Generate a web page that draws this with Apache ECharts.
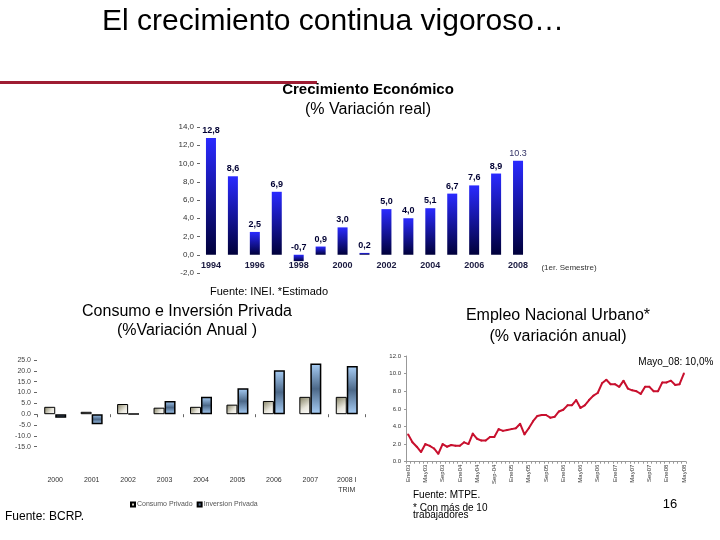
<!DOCTYPE html>
<html>
<head>
<meta charset="utf-8">
<script src="https://cdn.jsdelivr.net/npm/echarts@6/dist/echarts.min.js"></script>
<style>
html,body{margin:0;padding:0;background:#fff;}
#c{width:720px;height:540px;}
</style>
</head>
<body>
<div id="c"></div>
<script>
// ---- Crecimiento Económico ----
const pbiYears = ['1994','1995','1996','1997','1998','1999','2000','2001','2002','2003','2004','2005','2006','2007','2008'];
const pbiValues = [12.8, 8.6, 2.5, 6.9, -0.7, 0.9, 3.0, 0.2, 5.0, 4.0, 5.1, 6.7, 7.6, 8.9, 10.3];

// ---- Consumo e Inversión Privada ----
const ciCategories = ['2000','2001','2002','2003','2004','2005','2006','2007','2008 I\nTRIM'];
const consumoPrivado = [3.4, 1.1, 4.7, 3.0, 3.4, 4.4, 6.1, 8.0, 8.0];
const inversionPrivada = [-1.7, -4.7, 0.1, 6.1, 8.0, 12.0, 20.3, 23.4, 22.2];

// ---- Empleo Nacional Urbano ----
const empleoMonths = [
 'Ene03','Feb03','Mar03','Abr03','May03','Jun03','Jul03','Ago03','Sep03','Oct03','Nov03','Dic03',
 'Ene04','Feb04','Mar04','Abr04','May04','Jun04','Jul04','Ago04','Sep-04','Oct04','Nov04','Dic04',
 'Ene05','Feb05','Mar05','Abr05','May05','Jun05','Jul05','Ago05','Sep05','Oct05','Nov05','Dic05',
 'Ene06','Feb06','Mar06','Abr06','May06','Jun06','Jul06','Ago06','Sep06','Oct06','Nov06','Dic06',
 'Ene07','Feb07','Mar07','Abr07','May07','Jun07','Jul07','Ago07','Sep07','Oct07','Nov07','Dic07',
 'Ene08','Feb08','Mar08','Abr08','May08'];
const empleoValues = [3.1,2.2,1.7,1.1,2.0,1.8,1.5,0.9,2.0,1.7,1.9,1.8,
 1.8,2.2,2.0,3.2,2.6,2.4,2.4,2.8,2.8,3.7,3.5,3.6,
 3.7,3.8,4.3,3.1,3.8,4.6,5.2,5.3,5.3,5.0,5.1,5.7,
 5.9,6.4,6.4,7.0,6.1,6.4,7.0,7.5,7.8,8.9,9.3,8.8,
 8.8,8.5,9.2,8.3,8.1,8.0,7.7,8.5,8.5,8.0,8.0,9.0,
 9.0,9.2,8.7,8.8,10.0];

const FONT = 'Liberation Sans, Arial, sans-serif';
const chart = echarts.init(document.getElementById('c'), null, {renderer:'canvas'});

function txt(x, y, text, size, opts) {
  opts = opts || {};
  return {type:'text', x:x, y:y, silent:true, style:{
    text:text, fill:opts.color||'#000',
    font:(opts.weight||'normal')+' '+size+'px '+FONT,
    textAlign:opts.align||'center', textVerticalAlign:'middle'}};
}

const pbiData = pbiValues.map((v,i)=> i===pbiValues.length-1 ?
  {value:v, label:{fontWeight:'normal', color:'#333366', formatter:String(v.toFixed(1))}} : v);

const empleoData = empleoValues.map((v,i)=> i===empleoValues.length-1 ?
  {value:v, label:{show:true, position:'top', offset:[-8,0], fontSize:10, fontFamily:FONT, color:'#000',
    formatter:'Mayo_08: 10,0%'}} : v);

const option = {
  animation:false,
  backgroundColor:'#fff',
  textStyle:{fontFamily:FONT},
  graphic:[
    txt(333, 22, 'El crecimiento continua vigoroso…', 30),
    {type:'rect', shape:{x:0, y:81, width:317, height:3}, style:{fill:'#9e1c32'}, silent:true},
    txt(368, 90, 'Crecimiento Económico', 15, {weight:'bold'}),
    txt(368, 110, '(% Variación real)', 16),
    txt(569, 268, '(1er. Semestre)', 8, {color:'#333'}),
    txt(210, 292, 'Fuente: INEI. *Estimado', 11, {align:'left'}),
    txt(187, 312, 'Consumo e Inversión Privada', 16),
    txt(187, 331, '(%Variación Anual )', 16),
    txt(558, 316, 'Empleo Nacional Urbano*', 16),
    txt(558, 337, '(% variación anual)', 16),
    txt(5, 517, 'Fuente: BCRP.', 12, {align:'left'}),
    txt(413, 495, 'Fuente: MTPE.', 10, {align:'left'}),
    txt(413, 508, '* Con más de 10', 10, {align:'left'}),
    txt(413, 515, 'trabajadores', 10, {align:'left'}),
    txt(670, 504, '16', 13)
  ],
  legend:{
    data:['Consumo Privado','Inversion Privada'],
    icon:'rect',
    left:125, top:496, itemWidth:4, itemHeight:4, itemGap:4,
    textStyle:{fontSize:7, color:'#555', padding:[0,0,0,-3]}
  },
  grid:[
    {left:200, top:127, width:329, height:146},
    {left:37, top:360, width:328, height:86.7},
    {left:406, top:356, width:280, height:105.7}
  ],
  xAxis:[
    {gridIndex:0, type:'category', data:pbiYears, position:'bottom',
      axisLine:{show:false, onZero:false}, axisTick:{show:false},
      axisLabel:{interval:1, fontSize:9, fontWeight:'bold', color:'#1a1a40', margin:-12}},
    {gridIndex:1, type:'category', data:ciCategories,
      axisLine:{show:true, onZero:true, lineStyle:{color:'rgba(0,0,0,0)'}},
      axisTick:{show:true, length:3, lineStyle:{color:'#666'}},
      axisLabel:{show:false}},
    {gridIndex:1, type:'category', data:ciCategories, position:'bottom',
      axisLine:{show:false, onZero:false}, axisTick:{show:false},
      axisLabel:{fontSize:7, color:'#333', margin:28, lineHeight:10}},
    {gridIndex:2, type:'category', data:empleoMonths, boundaryGap:true,
      axisLine:{show:true, lineStyle:{color:'#999'}},
      axisTick:{show:true, interval:0, length:2, lineStyle:{color:'#999'}},
      axisLabel:{interval:3, rotate:90, fontSize:6, color:'#333', margin:3}}
  ],
  yAxis:[
    {gridIndex:0, type:'value', min:-2, max:14, interval:2,
      axisLine:{show:false}, axisTick:{show:true, length:3, lineStyle:{color:'#666'}},
      splitLine:{show:false},
      axisLabel:{fontSize:8, color:'#333', margin:6, formatter:v=>v.toFixed(1).replace('.',',')}},
    {gridIndex:1, type:'value', min:-15, max:25, interval:5,
      axisLine:{show:false}, axisTick:{show:true, length:3, lineStyle:{color:'#666'}},
      splitLine:{show:false},
      axisLabel:{fontSize:7, color:'#444', margin:6, formatter:v=>v.toFixed(1)}},
    {gridIndex:2, type:'value', min:0, max:12, interval:2,
      axisLine:{show:true, lineStyle:{color:'#999'}}, axisTick:{show:true, length:2, lineStyle:{color:'#999'}},
      splitLine:{show:false},
      axisLabel:{fontSize:6, color:'#333', margin:5, formatter:v=>v.toFixed(1)}}
  ],
  series:[
    {name:'PBI', type:'bar', xAxisIndex:0, yAxisIndex:0, data:pbiData, barWidth:10,
      itemStyle:{color:{type:'linear', x:0, y:0, x2:0, y2:1,
        colorStops:[{offset:0, color:'#2a2aff'},{offset:1, color:'#00003a'}]}},
      label:{show:true, position:'top', distance:3, fontSize:9, fontWeight:'bold', color:'#000033',
        formatter:p=>p.value.toFixed(1).replace('.',',')}},
    {name:'Consumo Privado', type:'bar', xAxisIndex:1, yAxisIndex:1, data:consumoPrivado,
      barWidth:11, barGap:'0%',
      itemStyle:{borderColor:'#000', borderWidth:1,
        color:{type:'linear', x:0, y:0, x2:1, y2:1,
          colorStops:[{offset:0, color:'#7f7c5e'},{offset:0.6, color:'#e8e6dc'},{offset:1, color:'#ffffff'}]}}},
    {name:'Inversion Privada', type:'bar', xAxisIndex:1, yAxisIndex:1, data:inversionPrivada,
      barWidth:11, barGap:'0%',
      itemStyle:{borderColor:'#000', borderWidth:1.5,
        color:{type:'linear', x:0, y:0, x2:0, y2:1,
          colorStops:[{offset:0, color:'#a9cff7'},{offset:0.5, color:'#4c6888'},{offset:1, color:'#a9cff7'}]}}},
    {name:'Empleo', type:'line', xAxisIndex:3, yAxisIndex:2, data:empleoData,
      symbol:'circle', symbolSize:2, showSymbol:true, showAllSymbol:true,
      lineStyle:{color:'#c8102e', width:2}, itemStyle:{color:'#c8102e'}}
  ]
};
chart.setOption(option);
</script>
</body>
</html>
